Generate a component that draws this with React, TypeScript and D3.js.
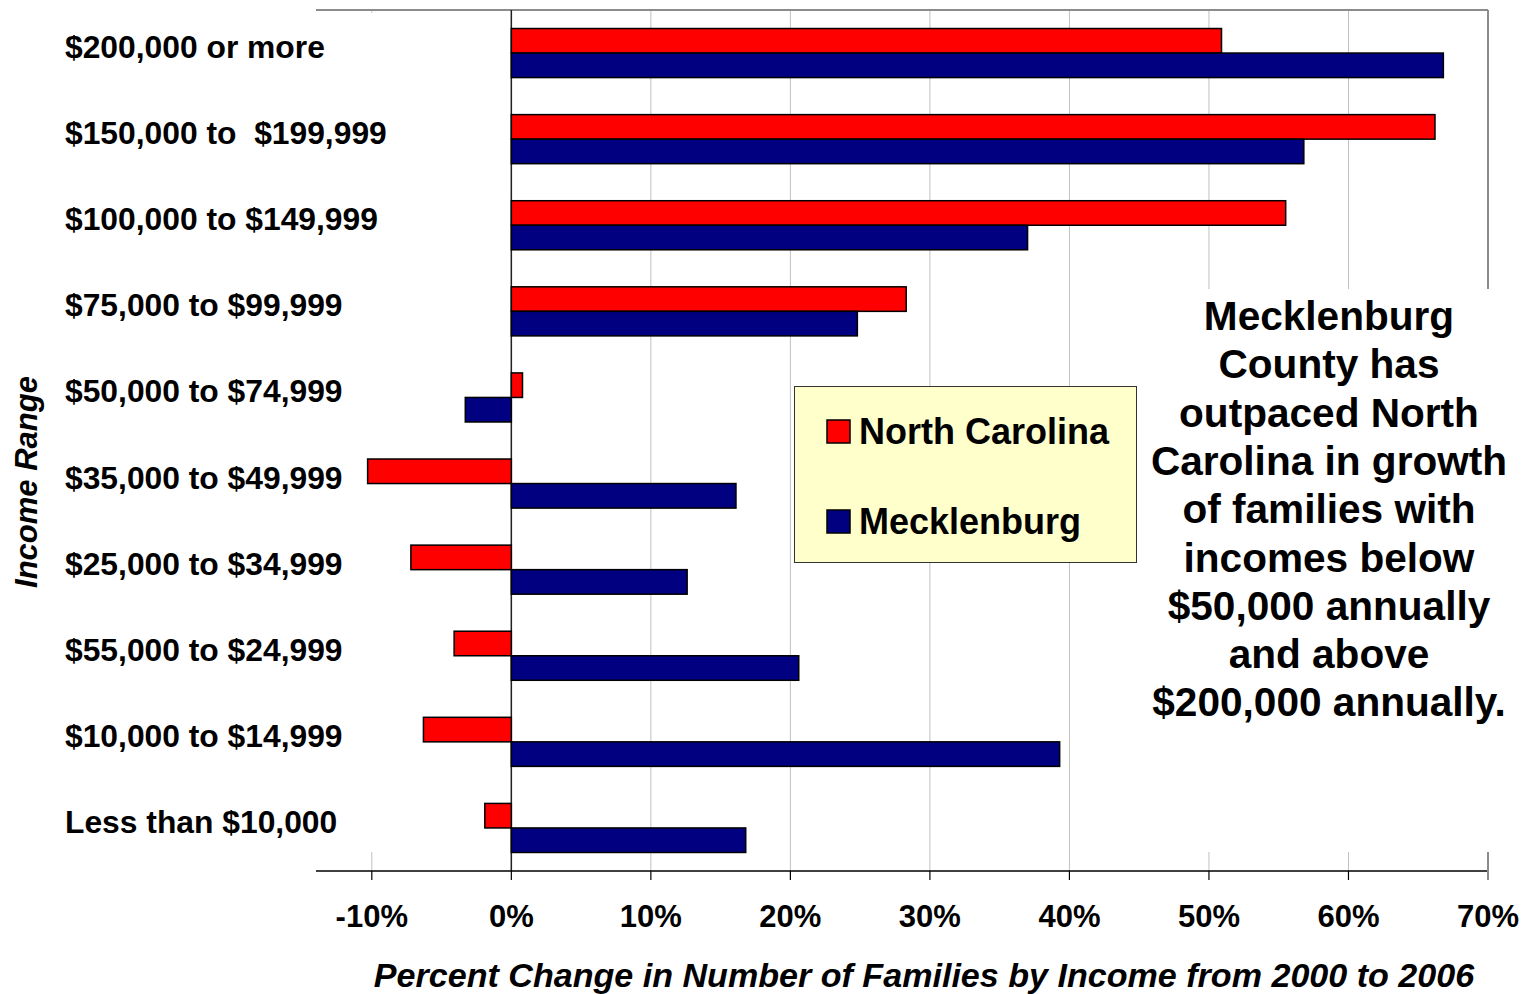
import React from 'react';
import * as d3 from 'd3';

const categories = [
  '$200,000 or more',
  '$150,000 to  $199,999',
  '$100,000 to $149,999',
  '$75,000 to $99,999',
  '$50,000 to $74,999',
  '$35,000 to $49,999',
  '$25,000 to $34,999',
  '$55,000 to $24,999',
  '$10,000 to $14,999',
  'Less than $10,000',
];
const seriesNames = ['North Carolina', 'Mecklenburg'];
const ncValues = [50.9, 66.2, 55.5, 28.3, 0.8, -10.3, -7.2, -4.1, -6.3, -1.9];
const meckValues = [66.8, 56.8, 37.0, 24.8, -3.3, 16.1, 12.6, 20.6, 39.3, 16.8];
const tickValues = [-10, 0, 10, 20, 30, 40, 50, 60, 70];
const noteLines = [
  'Mecklenburg',
  'County has',
  'outpaced North',
  'Carolina in growth',
  'of families with',
  'incomes below',
  '$50,000 annually',
  'and above',
  '$200,000 annually.',
];
const colors = ['#ff0000', '#000080'];

const FONT = '"Liberation Sans", Arial, Helvetica, sans-serif';

export default function App() {
  const width = 1524;
  const height = 994;
  const left = 316, right = 1488, top = 10, bottom = 871;

  const x = d3.scaleLinear().domain([-14, 70]).range([left, right]);
  const y = d3.scaleBand<string>().domain(categories).range([top, bottom]).padding(0);
  const sub = d3.scaleBand<string>().domain(seriesNames).range([0, y.bandwidth()])
    .paddingInner(0).paddingOuter(0.755);

  const rows = categories.map((c, i) => ({ c, vals: [ncValues[i], meckValues[i]] }));

  return (
    <svg width={width} height={height} style={{ position: 'absolute', left: 0, top: 0, background: '#fff' }}
      fontFamily={FONT}>
      {/* gridlines */}
      {tickValues.slice(0, -1).map(t => (
        <line key={'g' + t} x1={x(t)} x2={x(t)} y1={top} y2={bottom} stroke="#c0c0c0" strokeWidth={1} />
      ))}
      {/* plot border top/right */}
      <line x1={left} x2={right} y1={top} y2={top} stroke="#8c8c8c" strokeWidth={2} />
      <line x1={right} x2={right} y1={top} y2={bottom} stroke="#8c8c8c" strokeWidth={2} />

      {/* white box behind category labels */}
      <rect x={left - 1} y={top + 3} width={x(0) - left - 1} height={852 - top - 3} fill="#fff" />
      {/* white box behind note */}
      <rect x={1140} y={289} width={width - 1140} height={852 - 289} fill="#fff" />

      {/* zero line */}
      <line x1={x(0)} x2={x(0)} y1={top} y2={bottom} stroke="#222" strokeWidth={1.5} />

      {/* bars */}
      {rows.map(r => (
        <g key={r.c} transform={`translate(0,${y(r.c)})`}>
          {r.vals.map((v, j) => (
            <rect key={j}
              x={Math.min(x(0), x(v))}
              y={sub(seriesNames[j])}
              width={Math.abs(x(v) - x(0))}
              height={sub.bandwidth()}
              fill={colors[j]} stroke="#000" strokeWidth={1.5} />
          ))}
        </g>
      ))}

      {/* x axis */}
      <line x1={left} x2={right} y1={bottom} y2={bottom} stroke="#000" strokeWidth={1.5} />
      {tickValues.map(t => (
        <g key={'t' + t}>
          <line x1={x(t)} x2={x(t)} y1={bottom} y2={bottom + 9}
            stroke={t === 70 ? '#8c8c8c' : '#000'} strokeWidth={t === 70 ? 2 : 1.2} />
          <text x={x(t)} y={927} textAnchor="middle" fontSize={31} fontWeight="bold">{t}%</text>
        </g>
      ))}
      <line x1={right} x2={right} y1={852} y2={bottom + 9} stroke="#8c8c8c" strokeWidth={2} />

      {/* category labels */}
      {categories.map(c => (
        <text key={'l' + c} x={65} y={(y(c) ?? 0) + y.bandwidth() / 2 + 5} fontSize={31.8} fontWeight="bold"
          style={{ whiteSpace: 'pre' }}>{c}</text>
      ))}

      {/* axis titles */}
      <text x={924} y={987} textAnchor="middle" fontSize={34.1} fontWeight="bold" fontStyle="italic">
        Percent Change in Number of Families by Income from 2000 to 2006
      </text>
      <text transform="translate(37,482) rotate(-90)" textAnchor="middle" fontSize={31} fontWeight="bold"
        fontStyle="italic">Income Range</text>

      {/* legend */}
      <rect x={794.5} y={386.5} width={342} height={176} fill="#ffffcc" stroke="#333" strokeWidth={1} />
      {seriesNames.map((s, i) => (
        <g key={'lg' + s} transform={`translate(827,${420 + i * 90})`}>
          <rect x={0} y={0} width={23} height={23} fill={colors[i]} stroke="#000" strokeWidth={1.5} />
          <text x={32} y={24} fontSize={36} fontWeight="bold">{s}</text>
        </g>
      ))}

      {/* note */}
      {noteLines.map((l, i) => (
        <text key={'n' + i} x={1329} y={330 + i * 48.3} textAnchor="middle" fontSize={40.6} fontWeight="bold">{l}</text>
      ))}
    </svg>
  );
}
